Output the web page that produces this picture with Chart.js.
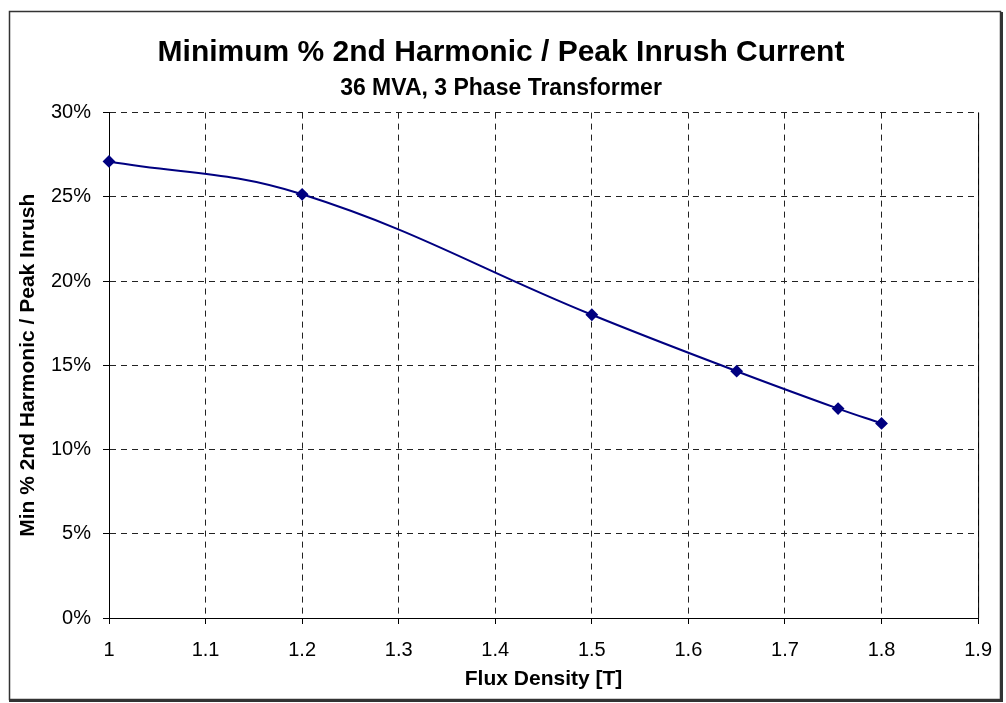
<!DOCTYPE html>
<html>
<head>
<meta charset="utf-8">
<title>Minimum % 2nd Harmonic / Peak Inrush Current</title>
<script src="https://cdn.jsdelivr.net/npm/chart.js@4.4.1/dist/chart.umd.min.js"></script>
<style>
  body { margin: 0; background: #fff; }
  canvas { display: block; }
</style>
</head>
<body>
<canvas id="grafica" width="1006" height="703"></canvas>
<script>
// datos
const fluxDensity = [1.0, 1.2, 1.5, 1.65, 1.755, 1.8];
const minHarmonic = [0.271, 0.2515, 0.180, 0.1465, 0.1243, 0.1155];

const xTicks = { min: 1, max: 1.9, step: 0.1 };
const yTicks = { min: 0, max: 0.3, step: 0.05 };

const fuente = "'Liberation Sans', Arial, Helvetica, sans-serif";

// marco exterior y borde derecho solido del area de trazado
const marco = {
  id: 'marco',
  afterDraw(chart) {
    const ctx = chart.ctx;
    const a = chart.chartArea;
    ctx.save();
    ctx.strokeStyle = '#000';
    ctx.lineWidth = 1;
    ctx.beginPath();
    ctx.moveTo(a.right + 0.5, a.top);
    ctx.lineTo(a.right + 0.5, a.bottom);
    ctx.stroke();
    ctx.strokeStyle = '#333';
    ctx.lineWidth = 1.5;
    ctx.strokeRect(9.5, 11.5, 991, 688);
    ctx.lineWidth = 3;
    ctx.beginPath();
    ctx.moveTo(9, 700.5);
    ctx.lineTo(1002, 700.5);
    ctx.moveTo(1001.5, 12);
    ctx.lineTo(1001.5, 702);
    ctx.stroke();
    ctx.restore();
  }
};

const data = {
  datasets: [
    {
      label: 'Min % 2nd Harmonic',
      data: fluxDensity.map((x, i) => ({ x: x, y: minHarmonic[i] })),
      borderColor: '#000080',
      backgroundColor: '#000080',
      borderWidth: 2,
      tension: 0.4,
      clip: false,
      pointStyle: 'rectRot',
      pointRadius: 5,
      pointHoverRadius: 5
    }
  ]
};

const config = {
  type: 'line',
  data: data,
  options: {
    responsive: false,
    animation: false,
    layout: { padding: { top: 12, left: 12, right: 16, bottom: 7 } },
    plugins: {
      legend: { display: false },
      tooltip: { enabled: false },
      title: {
        display: true,
        text: 'Minimum % 2nd Harmonic / Peak Inrush Current',
        color: '#000',
        font: { family: fuente, size: 30, weight: 'bold' },
        padding: { top: 23, bottom: 4 }
      },
      subtitle: {
        display: true,
        text: '36 MVA, 3 Phase Transformer',
        color: '#000',
        font: { family: fuente, size: 23, weight: 'bold' },
        padding: { top: 0, bottom: 10 }
      }
    },
    scales: {
      x: {
        type: 'linear',
        min: xTicks.min,
        max: xTicks.max,
        afterFit: s => { s.height = 78; },
        ticks: {
          stepSize: xTicks.step,
          color: '#000',
          padding: 14,
          font: { family: fuente, size: 20 },
          callback: v => parseFloat(v.toFixed(1)).toString()
        },
        grid: {
          color: '#222',
          tickColor: '#000',
          tickLength: 6,
          tickBorderDash: []
        },
        border: { display: true, color: '#000', width: 1, dash: [6, 5] },
        title: {
          display: true,
          text: 'Flux Density [T]',
          color: '#000',
          font: { family: fuente, size: 21, weight: 'bold' }
        }
      },
      y: {
        min: yTicks.min,
        max: yTicks.max,
        afterFit: s => { s.width = 97; },
        ticks: {
          stepSize: yTicks.step,
          color: '#000',
          padding: 12,
          font: { family: fuente, size: 20 },
          callback: v => Math.round(v * 100) + '%'
        },
        grid: {
          color: '#222',
          tickColor: '#000',
          tickLength: 6,
          tickBorderDash: []
        },
        border: { display: true, color: '#000', width: 1, dash: [6, 5] },
        title: {
          display: true,
          text: 'Min % 2nd Harmonic / Peak Inrush',
          color: '#000',
          font: { family: fuente, size: 21, weight: 'bold' }
        }
      }
    }
  },
  plugins: [marco]
};

const chart = new Chart(document.querySelector('#grafica'), config);
</script>
</body>
</html>
